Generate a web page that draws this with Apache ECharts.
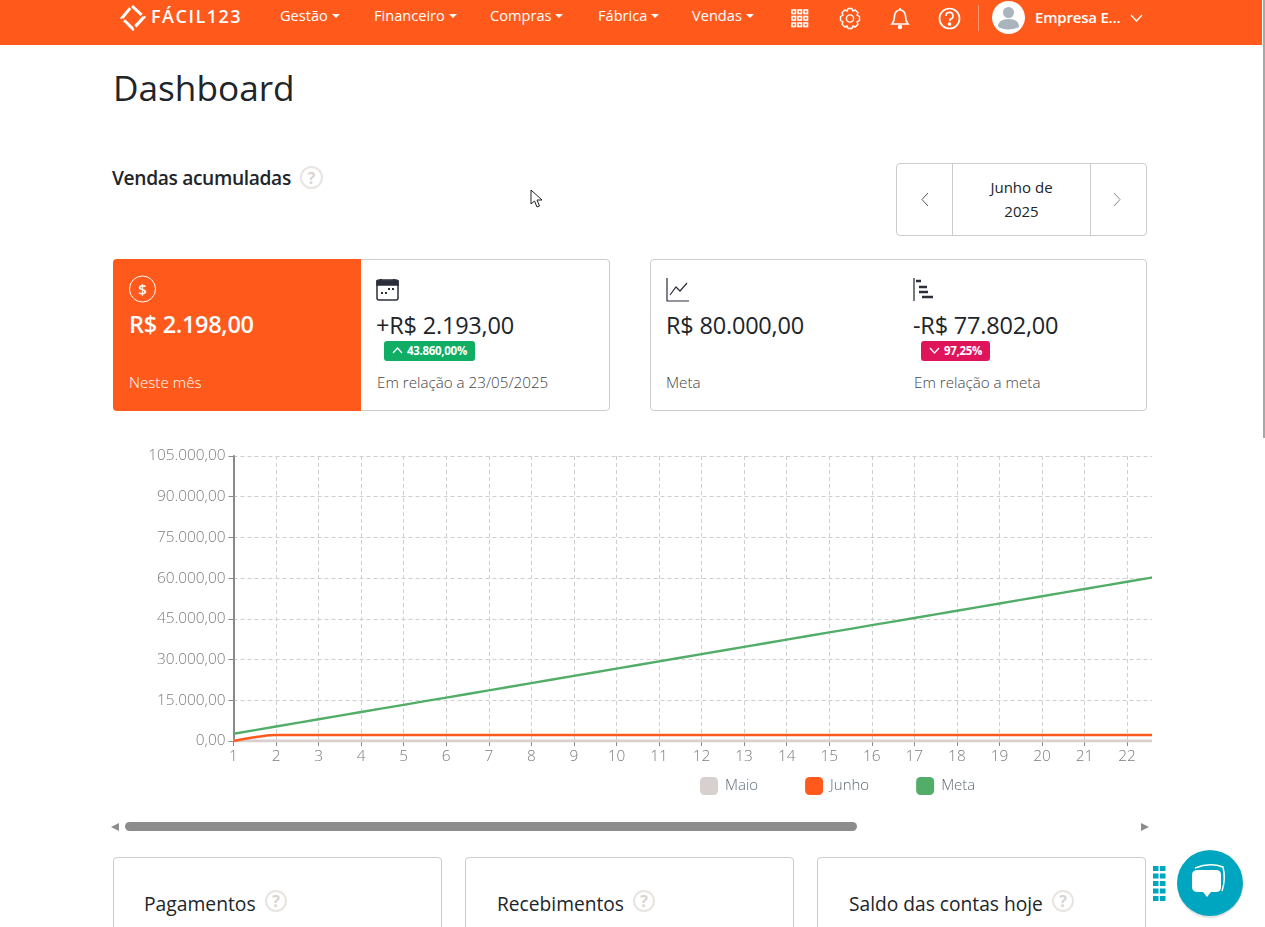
<!DOCTYPE html>
<html lang="pt-BR"><head><meta charset="utf-8"><title>Dashboard</title>
<script src="https://cdn.jsdelivr.net/npm/echarts@6/dist/echarts.min.js"></script>
<style>
html,body{margin:0;padding:0;width:1265px;height:927px;overflow:hidden;background:#fff;font-family:"Open Sans",sans-serif;color:#212529}
.a{position:absolute;white-space:nowrap}
.card{position:absolute;box-sizing:border-box;border:1px solid #ccc;border-radius:4px;background:#fff}
.nav{position:absolute;top:6px;color:#fff;font-size:14.6px;line-height:19px}
.nav i{display:inline-block;margin-left:4px;vertical-align:3px;border-left:4px solid transparent;border-right:4px solid transparent;border-top:4px solid #fff}
.big{font-size:23.5px;line-height:30px;letter-spacing:-.2px}
.sub{font-size:15.2px;line-height:19px;color:#444;font-weight:300}
.badge{position:absolute;height:20px;border-radius:3px;color:#fff;font-size:11.5px;font-weight:700;line-height:20px;box-sizing:border-box;letter-spacing:-.3px}
.q{position:absolute;width:21px;height:21px;border:2px solid #e8e4e2;border-radius:50%;box-sizing:border-box;color:#d8d4d2;font-size:16px;font-weight:700;line-height:18px;text-align:center}
svg{position:absolute;overflow:visible}
</style></head><body>
<div class="a" style="left:0;top:0;width:1262px;height:45px;background:#ff5a1b"></div>
<div class="a" style="left:1263px;top:0;width:2px;height:438px;background:#a8a8a8"></div>
<svg style="left:120px;top:4px" width="26" height="26" fill="none" stroke="#fff" stroke-width="3"><path d="M12 2 L24 13 L13 25 L2 14 Z" stroke-dasharray="13 3"/></svg>
<div class="a" style="left:151px;top:4px;color:#fff;font-size:18px;font-weight:600;line-height:25px;letter-spacing:1.5px">FÁCIL123</div>
<div class="nav" style="left:280px">Gestão<i></i></div>
<div class="nav" style="left:374px">Financeiro<i></i></div>
<div class="nav" style="left:490px">Compras<i></i></div>
<div class="nav" style="left:598px">Fábrica<i></i></div>
<div class="nav" style="left:692px">Vendas<i></i></div>
<svg style="left:791px;top:9px" width="18" height="19" fill="none" stroke="#fff" stroke-width="1.6"><rect x="1" y="1" width="3.5" height="3.5"/><rect x="7" y="1" width="3.5" height="3.5"/><rect x="13" y="1" width="3.5" height="3.5"/><rect x="1" y="7.5" width="3.5" height="3.5"/><rect x="7" y="7.5" width="3.5" height="3.5"/><rect x="13" y="7.5" width="3.5" height="3.5"/><rect x="1" y="14" width="3.5" height="3.5"/><rect x="7" y="14" width="3.5" height="3.5"/><rect x="13" y="14" width="3.5" height="3.5"/></svg>
<svg style="left:839px;top:7px" width="22" height="23" fill="none" stroke="#fff" stroke-width="1.4"><circle cx="11" cy="11.5" r="3.6"/><path d="M9 1.5 H13 L13.8 4 L16.2 3 L19 5.8 L18 8.2 L20.5 9.5 V13.5 L18 14.8 L19 17.2 L16.2 20 L13.8 19 L13 21.5 H9 L8.2 19 L5.8 20 L3 17.2 L4 14.8 L1.5 13.5 V9.5 L4 8.2 L3 5.8 L5.8 3 L8.2 4 Z" stroke-linejoin="round"/></svg>
<svg style="left:890px;top:7px" width="20" height="23" fill="none" stroke="#fff" stroke-width="1.7"><path d="M2 17 Q4.5 14 4.5 9 A5.5 6 0 0 1 15.5 9 Q15.5 14 18 17 Z"/><circle cx="10" cy="20" r="1.4" fill="#fff"/><path d="M10 1v2"/></svg>
<svg style="left:938px;top:7px" width="23" height="23" fill="none" stroke="#fff" stroke-width="1.7"><circle cx="11.5" cy="11.5" r="10"/><path d="M8 9 A3.5 3.5 0 1 1 12 12.3 V14"/><circle cx="11.5" cy="17" r="1" fill="#fff"/></svg>
<div class="a" style="left:978px;top:5px;width:1px;height:26px;background:#ff9a70"></div>
<svg style="left:992px;top:1px" width="33" height="33"><circle cx="16.5" cy="16.5" r="16.5" fill="#fff"/><circle cx="16.5" cy="11.5" r="5.5" fill="#aab4bd"/><path d="M6 26 Q6 18 16.5 18 Q27 18 27 26 Q16.5 31 6 26Z" fill="#aab4bd"/></svg>
<div class="a" style="left:1035px;top:7px;color:#fff;font-size:15px;font-weight:600;line-height:20px;letter-spacing:-.2px">Empresa E...</div>
<svg style="left:1130px;top:14px" width="13" height="8" fill="none" stroke="#fff" stroke-width="1.3"><path d="M1 1 L6.5 7 L12 1"/></svg>

<div class="a" style="left:113px;top:64px;font-size:35.2px;line-height:46px;color:#212529">Dashboard</div>
<div class="a" style="left:112px;top:164px;font-size:19.2px;font-weight:600;line-height:28px;letter-spacing:-.35px">Vendas acumuladas</div>
<div class="q" style="left:300px;top:166px;width:23px;height:23px;line-height:20px">?</div>
<svg style="left:530px;top:189px" width="14" height="20" fill="#fff" stroke="#222" stroke-width="1"><path d="M1 1 V15 L4.5 12 L7 18 L9.5 17 L7 11 L12 11 Z"/></svg>

<div class="card" style="left:896px;top:163px;width:251px;height:73px"></div>
<div class="a" style="left:952px;top:163px;width:1px;height:73px;background:#ccc"></div>
<div class="a" style="left:1090px;top:163px;width:1px;height:73px;background:#ccc"></div>
<div class="a" style="left:953px;top:175px;width:137px;text-align:center;font-size:15px;line-height:24px">Junho de<br>2025</div>
<svg style="left:920px;top:192px" width="9" height="15" fill="none" stroke="#555" stroke-width="1"><path d="M8 1 L2 7.5 L8 14"/></svg>
<svg style="left:1113px;top:192px" width="9" height="15" fill="none" stroke="#888" stroke-width="1"><path d="M1 1 L7 7.5 L1 14"/></svg>

<div class="card" style="left:113px;top:259px;width:497px;height:152px"></div>
<div class="a" style="left:113px;top:259px;width:248px;height:152px;background:#ff5a1b;border-radius:4px 0 0 4px"></div>
<svg style="left:129px;top:275px" width="27" height="28" fill="none"><circle cx="13.5" cy="14" r="13" stroke="#fff" stroke-width="1"/><text x="13.5" y="19.5" text-anchor="middle" fill="#fff" font-size="15" font-weight="600" font-family="Open Sans">$</text></svg>
<div class="a big" style="left:129px;top:309px;color:#fff;font-weight:600;letter-spacing:-.3px">R$ 2.198,00</div>
<div class="a sub" style="left:129px;top:373px;color:#fff">Neste mês</div>
<svg style="left:376px;top:278px" width="24" height="24" fill="none" stroke="#2b2f3a" stroke-width="1.5"><rect x="1" y="2" width="21" height="20" rx="2"/><path d="M1 3 H22 V7 H1 Z" fill="#2b2f3a"/><path d="M5 1v2M18 1v2M5 15h2M9 15h2M12 11h2M16 11h2" stroke-width="2"/></svg>
<div class="a big" style="left:376px;top:310px">+R$ 2.193,00</div>
<div class="badge" style="left:384px;top:341px;width:91px;background:#10ad65;padding-left:23px">43.860,00%</div>
<svg style="left:392px;top:347px" width="11" height="7" fill="none" stroke="#fff" stroke-width="1.3"><path d="M1 6 L5.5 1 L10 6"/></svg>
<div class="a sub" style="left:377px;top:373px">Em relação a 23/05/2025</div>

<div class="card" style="left:650px;top:259px;width:497px;height:152px"></div>
<svg style="left:666px;top:278px" width="24" height="24" fill="none" stroke="#2b2f3a" stroke-width="1.2"><path d="M1 0 V23 H23"/><path d="M4 17 L10 9 L14 13 L21 5"/></svg>
<div class="a big" style="left:666px;top:310px">R$ 80.000,00</div>
<div class="a sub" style="left:666px;top:373px">Meta</div>
<svg style="left:913px;top:278px" width="24" height="24" fill="none" stroke="#2b2f3a"><path d="M1 0 V23" stroke-width="1.3"/><path d="M3 3 H8 M6 9 H14 M6 14 H15 M9 19 H20" stroke-width="2.4"/></svg>
<div class="a big" style="left:913px;top:310px">-R$ 77.802,00</div>
<div class="badge" style="left:921px;top:341px;width:69px;background:#e0145a;padding-left:23px">97,25%</div>
<svg style="left:929px;top:347px" width="11" height="7" fill="none" stroke="#fff" stroke-width="1.3"><path d="M1 1 L5.5 6 L10 1"/></svg>
<div class="a sub" style="left:914px;top:373px">Em relação a meta</div>

<div class="a" style="left:113px;top:440px;width:1039px;height:365px;overflow:hidden">
  <div id="chart" style="width:1400px;height:365px"></div>
</div>

<svg style="left:110px;top:822px" width="10" height="10"><path d="M1 5 L9 1 V9 Z" fill="#8c8c8c"/></svg>
<div class="a" style="left:125px;top:822px;width:732px;height:9px;border-radius:5px;background:#8c8c8c"></div>
<svg style="left:1140px;top:822px" width="10" height="10"><path d="M9 5 L1 1 V9 Z" fill="#8c8c8c"/></svg>

<div class="card" style="left:113px;top:857px;width:329px;height:90px"></div>
<div class="a" style="left:144px;top:890px;font-size:19.3px;line-height:28px">Pagamentos</div>
<div class="q" style="left:265px;top:890px;width:22px;height:22px;line-height:19px">?</div>
<div class="card" style="left:465px;top:857px;width:329px;height:90px"></div>
<div class="a" style="left:497px;top:890px;font-size:19.2px;line-height:28px">Recebimentos</div>
<div class="q" style="left:633px;top:890px;width:22px;height:22px;line-height:19px">?</div>
<div class="card" style="left:817px;top:857px;width:329px;height:90px"></div>
<div class="a" style="left:849px;top:890px;font-size:19.2px;line-height:28px">Saldo das contas hoje</div>
<div class="q" style="left:1052px;top:890px;width:22px;height:22px;line-height:19px">?</div>

<svg style="left:1153px;top:865px" width="14" height="37" fill="#00a5c0"><rect x="0" y="1" width="5.5" height="5"/><rect x="7" y="1" width="5.5" height="5"/><rect x="0" y="8.5" width="5.5" height="5"/><rect x="7" y="8.5" width="5.5" height="5"/><rect x="0" y="16" width="5.5" height="5"/><rect x="7" y="16" width="5.5" height="5"/><rect x="0" y="23.5" width="5.5" height="5"/><rect x="7" y="23.5" width="5.5" height="5"/><rect x="0" y="31" width="5.5" height="5"/><rect x="7" y="31" width="5.5" height="5"/></svg>
<svg style="left:1175px;top:849px" width="72" height="74"><ellipse cx="35" cy="36" rx="33" ry="33" fill="#cfcfcf" opacity=".6"/><circle cx="35" cy="34" r="33" fill="#00a5c0"/><path d="M20 19 Q35 13 48 18 Q51 30 47 42" fill="none" stroke="#fff" stroke-width="1.5"/><path d="M17 26 Q17 21 23 21 H41 Q46 21 46 26 V38 Q46 43 41 43 H36 L32 48 L28 43 H23 Q17 43 17 38 Z" fill="#fff"/></svg>

<script>
const days = ['1','2','3','4','5','6','7','8','9','10','11','12','13','14','15','16','17','18','19','20','21','22','23','24','25','26','27','28','29','30'];
const yTicksMax = 105000;
const maio = [5,5,5,5,5,5,5,5,5,5,5,5,5,5,5,5,5,5,5,5,5,5,5,5,5,5,5,5,5,5];
const junho = [0,2198,2198,2198,2198,2198,2198,2198,2198,2198,2198,2198,2198,2198,2198,2198,2198,2198,2198,2198,2198,2198,2198,2198,2198,2198,2198,2198,2198,2198];
const meta = [2667,5333,8000,10667,13333,16000,18667,21333,24000,26667,29333,32000,34667,37333,40000,42667,45333,48000,50667,53333,56000,58667,61333,64000,66667,69333,72000,74667,77333,80000];

const fmt = v => v.toLocaleString('pt-BR',{minimumFractionDigits:2,maximumFractionDigits:2});
const chart = echarts.init(document.getElementById('chart'),null,{renderer:'canvas'});
const lbl = {color:'#7c7c7c',fontFamily:'Open Sans',fontSize:15.4,fontWeight:300};
const dash = {color:'#cfcfcf',type:[4,3]};
const mk = (name,data,color,z,width)=>({name,type:'line',data,smooth:0.25,showSymbol:false,z,lineStyle:{color,width},itemStyle:{color}});
chart.setOption({
  animation:false,
  grid:{left:120.5,top:16,width:1234,height:285,containLabel:false},
  legend:{left:582,top:332,itemWidth:18,itemHeight:18,itemGap:47,icon:'roundRect',
    textStyle:{color:'#5f6b76',fontFamily:'Open Sans',fontSize:15,fontWeight:300,padding:[0,0,0,2]},
    data:['Maio','Junho','Meta']},
  xAxis:{type:'category',boundaryGap:false,data:days,
    axisLine:{lineStyle:{color:'#8a8a8a',width:1,type:[5,3]}},
    axisTick:{alignWithLabel:true,length:5,lineStyle:{color:'#8a8a8a'}},
    axisLabel:{...lbl,interval:0,margin:8},
    splitLine:{show:true,lineStyle:dash}},
  yAxis:{type:'value',min:0,max:yTicksMax,interval:15000,
    axisLine:{show:true,lineStyle:{color:'#8a8a8a',width:2}},
    axisTick:{show:true,length:5,lineStyle:{color:'#8a8a8a'}},
    axisLabel:{...lbl,margin:8,padding:[2,0,0,0],formatter:fmt},
    splitLine:{show:true,lineStyle:dash}},
  series:[mk('Maio',maio,'#d8d0cf',1,3),mk('Junho',junho,'#ff5a1b',3,2.5),mk('Meta',meta,'#52ad68',2,2.4)]
});
</script>
</body></html>
